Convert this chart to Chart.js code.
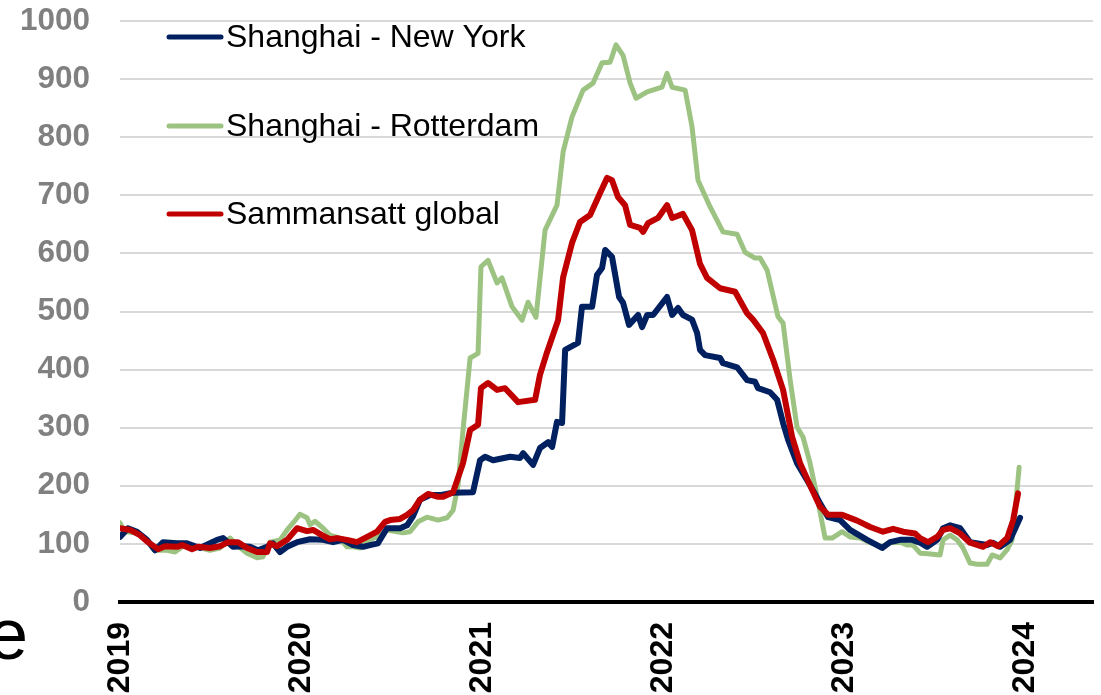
<!DOCTYPE html>
<html><head><meta charset="utf-8">
<script src="https://cdn.jsdelivr.net/npm/chart.js@4.4.1/dist/chart.umd.min.js"></script>
<style>html,body{margin:0;padding:0;background:#fff;overflow:hidden}#wrap{width:1101px;height:695px;position:relative}</style>
</head><body><div id="wrap"><canvas id="c" width="1101" height="695"></canvas></div>
<script>
// Tick labels
const yearTicks = [2019, 2020, 2021, 2022, 2023, 2024];
const seriesNames = ['Shanghai - New York', 'Shanghai - Rotterdam', 'Sammansatt global'];
const baseYear = 2019;

// Shanghai - New York: time in years after 1 Jan 2019, and value
const nyT = [0,0.044,0.094,0.149,0.193,0.238,0.315,0.370,0.442,0.497,0.536,0.569,0.624,0.680,0.718,0.762,0.812,0.845,0.884,0.923,0.978,1.050,1.122,1.177,1.232,1.287,1.343,1.381,1.425,1.475,1.547,1.586,1.619,1.657,1.713,1.768,1.840,1.950,1.989,2.017,2.061,2.155,2.210,2.227,2.282,2.320,2.365,2.387,2.414,2.442,2.459,2.530,2.552,2.608,2.635,2.663,2.680,2.718,2.757,2.779,2.812,2.862,2.884,2.912,2.945,3.022,3.050,3.083,3.110,3.160,3.188,3.204,3.232,3.315,3.331,3.409,3.464,3.508,3.525,3.591,3.630,3.663,3.691,3.740,3.812,3.867,3.912,3.978,4.033,4.127,4.210,4.254,4.309,4.376,4.420,4.459,4.514,4.547,4.586,4.641,4.696,4.790,4.823,4.862,4.917,4.972];
const nyV = [112,127,121,107,89,103,101,101,93,101,107,110,95,96,95,89,95,101,86,95,103,108,107,103,107,98,95,98,101,127,127,132,148,176,184,184,188,189,244,250,244,250,248,256,236,265,275,267,310,308,434,446,508,508,563,575,606,594,525,515,477,494,473,494,494,525,494,506,494,486,463,434,425,420,411,404,382,379,368,361,348,308,279,239,201,170,146,141,124,107,93,103,107,107,102,95,107,127,132,127,103,98,102,95,107,145];

// Shanghai - Rotterdam
const rotT = [0,0.028,0.094,0.127,0.204,0.260,0.304,0.348,0.425,0.497,0.552,0.608,0.646,0.702,0.757,0.790,0.829,0.884,0.923,0.956,0.994,1.033,1.050,1.077,1.122,1.160,1.215,1.254,1.287,1.326,1.381,1.436,1.475,1.530,1.564,1.602,1.646,1.696,1.757,1.807,1.840,1.867,1.895,1.934,1.978,1.994,2.033,2.083,2.110,2.166,2.221,2.254,2.298,2.348,2.414,2.448,2.497,2.558,2.613,2.663,2.707,2.740,2.779,2.818,2.851,2.912,2.994,3.022,3.050,3.122,3.160,3.193,3.260,3.331,3.409,3.453,3.508,3.536,3.575,3.635,3.663,3.702,3.740,3.773,3.812,3.851,3.895,3.934,3.989,4.033,4.088,4.144,4.210,4.254,4.309,4.348,4.381,4.420,4.464,4.530,4.547,4.586,4.624,4.657,4.696,4.735,4.790,4.818,4.862,4.901,4.928,4.945,4.967];
const rotV = [136,121,119,112,89,89,86,96,95,89,93,110,98,84,76,78,103,107,124,136,151,145,133,139,127,115,110,95,95,93,107,115,124,121,119,121,138,146,141,145,158,200,296,420,428,577,588,549,558,508,485,516,490,640,683,775,835,881,893,928,929,959,941,893,867,878,886,910,886,881,818,726,680,637,633,602,592,592,571,491,480,382,301,284,239,181,110,110,121,112,110,102,95,102,103,98,98,84,83,81,107,115,107,93,67,65,65,81,76,90,107,158,232];

// Sammansatt global
const globT = [0,0.055,0.110,0.155,0.210,0.249,0.315,0.343,0.398,0.431,0.497,0.552,0.597,0.652,0.702,0.757,0.812,0.829,0.867,0.923,0.978,1.033,1.066,1.116,1.160,1.199,1.254,1.309,1.365,1.420,1.464,1.492,1.547,1.586,1.619,1.657,1.702,1.757,1.785,1.840,1.895,1.934,1.978,1.994,2.033,2.083,2.127,2.199,2.293,2.320,2.359,2.420,2.448,2.497,2.541,2.597,2.652,2.691,2.718,2.751,2.790,2.818,2.873,2.890,2.917,2.972,3.022,3.050,3.110,3.160,3.204,3.243,3.315,3.398,3.464,3.497,3.552,3.608,3.663,3.713,3.757,3.812,3.867,3.912,3.989,4.072,4.144,4.215,4.271,4.326,4.392,4.420,4.464,4.514,4.547,4.586,4.641,4.696,4.768,4.807,4.851,4.901,4.934,4.961];
const globV = [127,124,115,103,91,96,95,98,91,95,93,96,103,103,93,86,86,101,96,107,127,122,124,115,108,110,107,103,112,121,138,141,143,150,158,176,186,181,181,189,239,296,305,368,377,365,368,344,348,391,430,485,559,618,654,666,704,730,726,697,683,649,644,637,652,661,683,661,668,640,582,558,540,534,497,486,463,417,365,284,239,201,164,150,150,140,129,121,126,121,118,110,103,112,124,127,118,102,95,103,96,110,141,187];

const colors = ['#002060', '#9dc383', '#c00000'];

function pts(ts, vs) { return ts.map((t, i) => ({ x: baseYear + t, y: vs[i] })); }

const FONT = '"Liberation Sans", Arial, sans-serif';

const extraText = {
  id: 'extraText',
  afterDraw(chart) {
    const ctx = chart.ctx;
    ctx.save();
    // legend
    const ys = [37, 126, 214];
    [0, 1, 2].forEach((di, k) => {
      const ds = chart.data.datasets[di];
      ctx.strokeStyle = ds.borderColor;
      ctx.lineWidth = 5;
      ctx.lineCap = 'round';
      ctx.beginPath();
      ctx.moveTo(169, ys[k]);
      ctx.lineTo(221, ys[k]);
      ctx.stroke();
      ctx.fillStyle = '#000';
      ctx.font = '32px ' + FONT;
      ctx.textAlign = 'left';
      ctx.textBaseline = 'middle';
      ctx.fillText(ds.label, 226, ys[k] + 1);
    });
    // cut-off letter at bottom left
    ctx.font = '72px ' + FONT;
    ctx.textAlign = 'right';
    ctx.textBaseline = 'alphabetic';
    ctx.fillStyle = '#000';
    ctx.fillText('e', 28, 659);
    ctx.restore();
  }
};

new Chart(document.getElementById('c'), {
  type: 'line',
  data: {
    datasets: [
      { label: seriesNames[0], data: pts(nyT, nyV), borderColor: colors[0], borderWidth: 6, order: 1 },
      { label: seriesNames[1], data: pts(rotT, rotV), borderColor: colors[1], borderWidth: 5, order: 2 },
      { label: seriesNames[2], data: pts(globT, globV), borderColor: colors[2], borderWidth: 6, order: 0 }
    ]
  },
  options: {
    responsive: false,
    animation: false,
    devicePixelRatio: 1,
    layout: { padding: { left: 0, top: 21, right: 8, bottom: 0 } },
    elements: {
      point: { radius: 0 },
      line: { tension: 0, borderJoinStyle: 'round', borderCapStyle: 'round', fill: false }
    },
    plugins: { legend: { display: false }, tooltip: { enabled: false } },
    scales: {
      x: {
        type: 'linear',
        min: 2019,
        max: 2024.375,
        afterBuildTicks: (s) => { s.ticks = yearTicks.map(v => ({ value: v })); },
        afterFit: (s) => { s.height = 93; s.paddingLeft = 0; s.paddingRight = 0; },
        grid: { display: false, drawTicks: false },
        border: { display: true, color: '#000', width: 4 },
        ticks: {
          autoSkip: false, minRotation: 90, maxRotation: 90, padding: 20,
          color: '#000', font: { family: FONT, size: 32, weight: 'bold' },
          callback: (v) => String(v)
        }
      },
      y: {
        min: 0, max: 1000,
        afterFit: (s) => { s.width = 120; s.paddingTop = 0; s.paddingBottom = 0; },
        grid: { color: (c) => c.tick && c.tick.value === 0 ? 'rgba(0,0,0,0)' : '#d9d9d9', lineWidth: 2, drawTicks: false },
        border: { display: false },
        ticks: {
          stepSize: 100, padding: 30,
          color: '#808080', font: { family: FONT, size: 31.5, weight: 'bold' },
          callback: (v) => String(v)
        }
      }
    }
  },
  plugins: [extraText]
});
</script>
</body></html>
